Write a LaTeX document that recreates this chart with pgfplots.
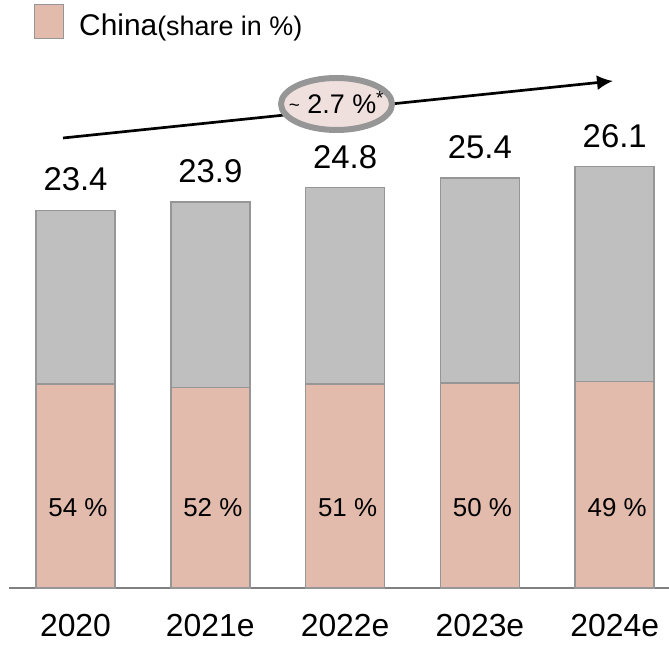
\documentclass[border=0pt]{standalone}
\usepackage{pgfplots}
\pgfplotsset{compat=1.18}
\usetikzlibrary{arrows.meta}
\usepackage{fontspec}
\setmainfont{Liberation Sans}
\definecolor{pinkfill}{RGB}{226,187,173}
\definecolor{grayfill}{RGB}{191,191,191}
\definecolor{edgegray}{RGB}{150,150,150}
\definecolor{ellfill}{RGB}{239,224,221}
\begin{document}
\begin{tikzpicture}[x=1bp,y=1bp]
\useasboundingbox (0,0) rectangle (669,645);
\begin{axis}[
  at={(9bp,57bp)}, anchor=south west,
  scale only axis, width=660bp, height=484.2bp,
  xmin=-0.4933, xmax=4.4028, ymin=0, ymax=30,
  ybar stacked, bar width=79bp,
  axis x line*=bottom, axis y line=none,
  x axis line style={draw=gray, line width=1.5bp},
  xtick={0,1,2,3,4},
  xticklabels={2020,2021e,2022e,2023e,2024e},
  major tick length=0pt,
  xticklabel style={font=\fontsize{32}{36}\selectfont, anchor=center, inner sep=0pt, yshift=-37.5bp},
  ytick=\empty,
  clip=false,
]
\addplot[fill=pinkfill, draw=edgegray, line width=1.5bp] coordinates {
  (0,12.64) (1,12.43) (2,12.65) (3,12.70) (4,12.79)};
\addplot[fill=grayfill, draw=edgegray, line width=1.5bp] coordinates {
  (0,10.76) (1,11.47) (2,12.15) (3,12.70) (4,13.31)};
\coordinate (t0) at (axis cs:0,23.4);
\coordinate (t1) at (axis cs:1,23.9);
\coordinate (t2) at (axis cs:2,24.8);
\coordinate (t3) at (axis cs:3,25.4);
\coordinate (t4) at (axis cs:4,26.1);
\coordinate (p0) at (axis cs:0,5.0);
\coordinate (p1) at (axis cs:1,5.0);
\coordinate (p2) at (axis cs:2,5.0);
\coordinate (p3) at (axis cs:3,5.0);
\coordinate (p4) at (axis cs:4,5.0);
\end{axis}
% total labels
\foreach \i/\v in {0/23.4,1/23.9,2/24.8,3/25.4,4/26.1}{
  \node[font=\fontsize{33}{38}\selectfont, text=black, anchor=center, inner sep=0pt] at ([yshift=31bp]t\i) {\v};
}
% share labels
\foreach \i/\v in {0/54,1/52,2/51,3/50,4/49}{
  \node[font=\fontsize{26}{30}\selectfont, text=black, anchor=center, inner sep=0pt] at ([xshift=2.5bp]p\i) {\v~\%};
}
% growth arrow
\draw[line width=2.7bp, -{Latex[length=16bp,width=15bp]}] (63,507) -- (613,564);
\draw[draw=edgegray, line width=6bp, fill=ellfill] (336.5,541) ellipse [x radius=55.5, y radius=26];
\node[font=\fontsize{27}{31}\selectfont, inner sep=0pt] at (336.5,542) {\raisebox{0.15ex}{\fontsize{19}{20}\selectfont\textasciitilde}~2.7~\%\textsuperscript{*}};
% legend
\draw[draw=edgegray, line width=1bp, fill=pinkfill] (34,606) rectangle (63,640);
\node[anchor=base west, inner sep=0pt] at (79,609) {\fontsize{30}{34}\selectfont China\fontsize{27}{31}\selectfont(share in \%)};
\end{tikzpicture}
\end{document}
